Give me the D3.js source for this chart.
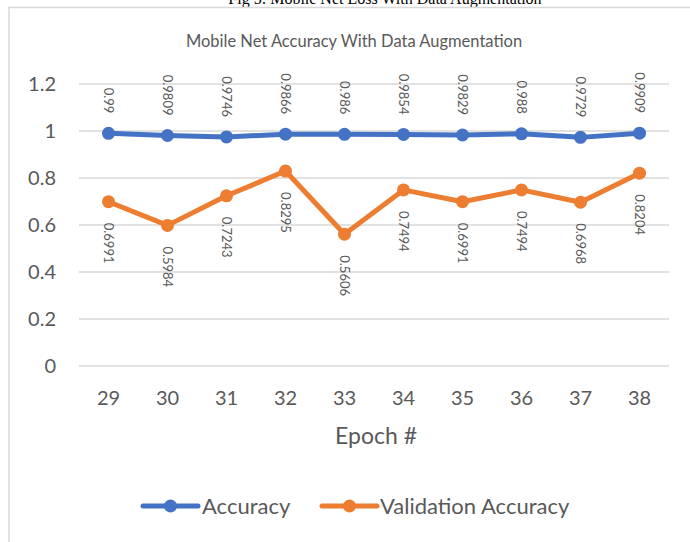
<!DOCTYPE html>
<html lang="en">
<head>
<meta charset="UTF-8">
<title>Mobile Net Accuracy With Data Augmentation</title>
<script src="https://d3js.org/d3.v7.min.js"></script>
<style>
    body { margin: 0; padding: 0; background: #fff; }
    svg { display: block; }
    .lbl { font-family: Lato, "Open Sans", sans-serif; fill: #595959; }
</style>
</head>
<body>
<div id="chart"></div>
<script>
// data
const epochs = ["29", "30", "31", "32", "33", "34", "35", "36", "37", "38"];
const accuracy = [0.99, 0.9809, 0.9746, 0.9866, 0.986, 0.9854, 0.9829, 0.988, 0.9729, 0.9909];
const valAccuracy = [0.6991, 0.5984, 0.7243, 0.8295, 0.5606, 0.7494, 0.6991, 0.7494, 0.6968, 0.8204];
const yTicks = [0, 0.2, 0.4, 0.6, 0.8, 1, 1.2];

const series = [
    { name: "Accuracy", values: accuracy, color: "#4472C4", labelPos: "above" },
    { name: "Validation Accuracy", values: valAccuracy, color: "#ED7D31", labelPos: "below" }
];

const width = 690, height = 542;

const svg = d3.select("#chart")
    .append("svg")
    .attr("width", width)
    .attr("height", height);

// caption of the figure above, cut off by the crop
svg.append("text")
    .attr("x", 385)
    .attr("y", 4)
    .attr("text-anchor", "middle")
    .style("font-family", "'Liberation Serif', 'Times New Roman', serif")
    .style("font-size", "16px")
    .attr("fill", "#000")
    .text("Fig 5: Mobile Net Loss With Data Augmentation");

// chart frame (right and bottom sides are outside the crop)
svg.append("rect")
    .attr("x", 9)
    .attr("y", 7.5)
    .attr("width", 700)
    .attr("height", 560)
    .attr("fill", "none")
    .attr("stroke", "#d9d9d9")
    .attr("stroke-width", 1.5);

const x = d3.scaleBand().domain(epochs).range([79, 669]);
const y = d3.scaleLinear().domain([0, 1.2]).range([366, 84]);
const cx = d => x(d) + x.bandwidth() / 2;

// title
svg.append("text")
    .attr("class", "lbl")
    .attr("x", 354)
    .attr("y", 41)
    .attr("dy", "0.35em")
    .attr("text-anchor", "middle")
    .style("font-size", "16.5px")
    .text("Mobile Net Accuracy With Data Augmentation");

// gridlines
svg.append("g")
    .selectAll("line")
    .data(yTicks)
    .join("line")
    .attr("x1", 79)
    .attr("x2", 669)
    .attr("y1", d => y(d))
    .attr("y2", d => y(d))
    .attr("stroke", "#d9d9d9")
    .attr("stroke-width", 1.3);

// y labels
svg.append("g")
    .selectAll("text")
    .data(yTicks)
    .join("text")
    .attr("class", "lbl")
    .attr("x", 56)
    .attr("y", d => y(d))
    .attr("dy", "0.35em")
    .attr("text-anchor", "end")
    .style("font-size", "20px")
    .text(d => d3.format("~g")(d));

// x labels
svg.append("g")
    .selectAll("text")
    .data(epochs)
    .join("text")
    .attr("class", "lbl")
    .attr("x", d => cx(d))
    .attr("y", 398)
    .attr("dy", "0.35em")
    .attr("text-anchor", "middle")
    .style("font-size", "20px")
    .text(d => d);

svg.append("text")
    .attr("class", "lbl")
    .attr("x", 376)
    .attr("y", 436)
    .attr("dy", "0.35em")
    .attr("text-anchor", "middle")
    .style("font-size", "23px")
    .text("Epoch #");

const line = d3.line()
    .x((d, i) => cx(epochs[i]))
    .y(d => y(d));

series.forEach(s => {
    const g = svg.append("g");
    g.append("path")
        .datum(s.values)
        .attr("d", line)
        .attr("fill", "none")
        .attr("stroke", s.color)
        .attr("stroke-width", 5)
        .attr("stroke-linejoin", "round");

    g.selectAll("circle")
        .data(s.values)
        .join("circle")
        .attr("cx", (d, i) => cx(epochs[i]))
        .attr("cy", d => y(d))
        .attr("r", 6.5)
        .attr("fill", s.color);

    // rotated data labels
    g.selectAll("text")
        .data(s.values)
        .join("text")
        .attr("class", "lbl")
        .style("font-size", "13px")
        .attr("text-anchor", s.labelPos === "above" ? "end" : "start")
        .attr("dominant-baseline", "central")
        .attr("transform", (d, i) => {
            const px = cx(epochs[i]);
            const py = s.labelPos === "above" ? y(d) - 20 : y(d) + 21;
            return `translate(${px},${py}) rotate(90)`;
        })
        .text(d => d);
});

// legend
const legend = [
    { x0: 143, x1: 198, tx: 202 },
    { x0: 322, x1: 377, tx: 380 }
];
series.forEach((s, i) => {
    const l = legend[i];
    const g = svg.append("g");
    g.append("line")
        .attr("x1", l.x0).attr("x2", l.x1)
        .attr("y1", 506).attr("y2", 506)
        .attr("stroke", s.color)
        .attr("stroke-width", 5)
        .attr("stroke-linecap", "round");
    g.append("circle")
        .attr("cx", (l.x0 + l.x1) / 2)
        .attr("cy", 506)
        .attr("r", 6.5)
        .attr("fill", s.color);
    g.append("text")
        .attr("class", "lbl")
        .attr("x", l.tx)
        .attr("y", 506)
        .attr("dy", "0.35em")
        .style("font-size", "22px")
        .text(s.name);
});
</script>
</body>
</html>
